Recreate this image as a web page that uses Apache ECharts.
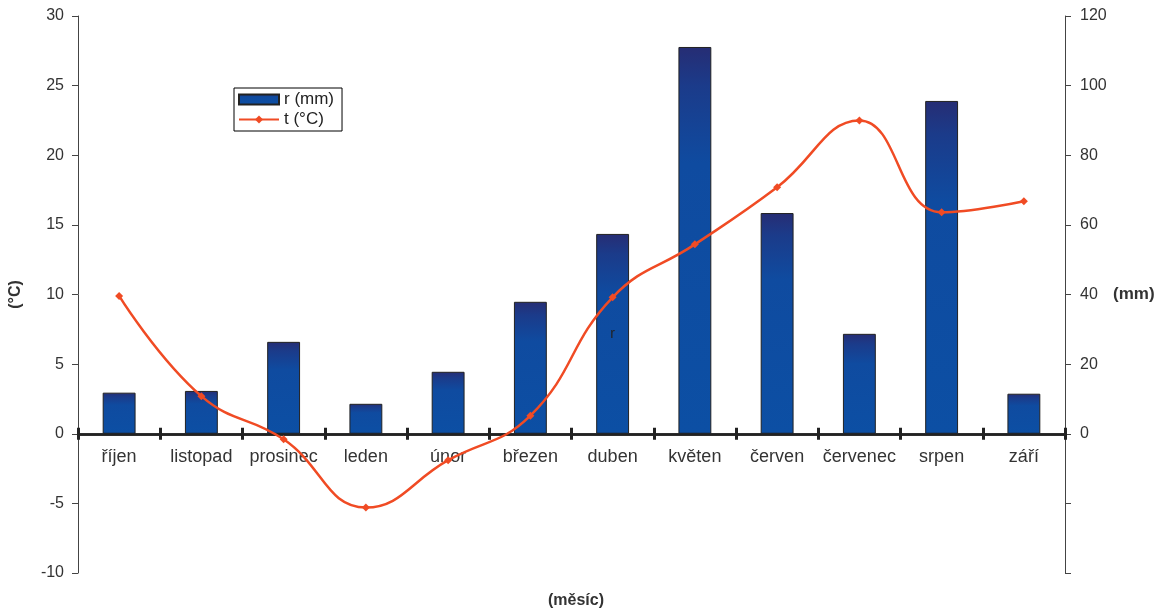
<!DOCTYPE html>
<html>
<head>
<meta charset="utf-8">
<script src="https://cdn.jsdelivr.net/npm/echarts@6/dist/echarts.min.js"></script>
<style>
  html, body { margin: 0; padding: 0; background: #fff; }
  #chart { width: 1162px; height: 608px; }
</style>
</head>
<body>
<div id="chart"></div>
<script>
// months (Czech)
const months = ['říjen', 'listopad', 'prosinec', 'leden', 'únor', 'březen',
  'duben', 'květen', 'červen', 'červenec', 'srpen', 'září'];
// precipitation r (mm)
const rainfall = [11.8, 12.3, 26.4, 8.6, 17.8, 37.9, 57.4, 111.1, 63.4, 28.7, 95.6, 11.5];
// temperature t (°C)
const temperature = [9.9, 2.7, -0.4, -5.3, -1.9, 1.3, 9.8, 13.6, 17.7, 22.5, 15.9, 16.7];
// stray data label "r" shown on the duben bar
const strayLabelIndex = 6;

const font = 'Liberation Sans, Arial, sans-serif';
const textColor = '#333';

// grid geometry: x axis sits on the 0 line of the temperature axis
const gridTop = 16, gridBottom = 35, chartH = 608;
const plotH = chartH - gridTop - gridBottom;
const zeroOffset = -plotH * 10 / 40;

const barColor = new echarts.graphic.LinearGradient(0, 0, 0, 1, [
  { offset: 0, color: '#262d74' },
  { offset: 0.1, color: '#1b3b8a' },
  { offset: 0.3, color: '#0f4ba0' },
  { offset: 1, color: '#0c4fa4' }
]);

const chart = echarts.init(document.getElementById('chart'), null, { renderer: 'canvas' });

chart.setOption({
  animation: false,
  textStyle: { fontFamily: font },
  title: {
    text: '(měsíc)',
    left: 571, top: 588,
    textAlign: 'center',
    textStyle: { fontSize: 16, fontWeight: 'bold', color: textColor, fontFamily: font }
  },
  legend: {
    orient: 'vertical',
    left: 234, top: 88,
    padding: [3, 8, 3, 4],
    itemGap: 3,
    itemWidth: 40,
    itemHeight: 10,
    borderColor: '#000',
    borderWidth: 1,
    backgroundColor: '#fff',
    textStyle: { fontSize: 17, color: '#222', fontFamily: font },
    data: [{ name: 'r (mm)', icon: 'rect' }, 't (°C)']
  },
  grid: { left: 78, right: 97, top: gridTop, bottom: gridBottom, containLabel: false, outerBoundsMode: 'none' },
  xAxis: [
    {
      type: 'category',
      data: months,
      position: 'bottom',
      offset: zeroOffset,
      axisLine: { onZero: false, lineStyle: { color: '#222', width: 2.5 } },
      axisTick: { show: true, length: 6, lineStyle: { color: '#222', width: 3 } },
      axisLabel: { fontSize: 18, color: textColor, margin: 14, interval: 0, fontFamily: font }
    },
    {
      type: 'category',
      data: months,
      position: 'bottom',
      offset: zeroOffset,
      axisLine: { onZero: false, lineStyle: { color: '#222', width: 2.5 } },
      axisTick: { show: true, inside: true, length: 6, lineStyle: { color: '#222', width: 3 } },
      axisLabel: { show: false }
    }
  ],
  yAxis: [
    {
      type: 'value',
      min: -10, max: 30, interval: 5,
      name: '(°C)',
      nameLocation: 'middle',
      nameRotate: 90,
      nameGap: 54,
      nameTextStyle: { fontSize: 16, fontWeight: 'bold', color: textColor, fontFamily: font },
      axisLine: { show: true, lineStyle: { color: '#444', width: 1 } },
      axisTick: { show: true, length: 6, lineStyle: { color: '#444' } },
      axisLabel: { fontSize: 16, color: textColor, margin: 14, fontFamily: font },
      splitLine: { show: false }
    },
    {
      type: 'value',
      min: -40, max: 120, interval: 20,
      position: 'right',
      name: '(mm)',
      nameLocation: 'middle',
      nameRotate: 0,
      nameGap: 48,
      nameTextStyle: { fontSize: 17, fontWeight: 'bold', color: textColor, fontFamily: font, align: 'left' },
      axisLine: { show: true, lineStyle: { color: '#444', width: 1 } },
      axisTick: { show: true, length: 6, lineStyle: { color: '#444' } },
      axisLabel: {
        fontSize: 16, color: textColor, margin: 15, fontFamily: font,
        formatter: v => (v < 0 ? '' : String(v))
      },
      splitLine: { show: false }
    }
  ],
  series: [
    {
      name: 'r (mm)',
      type: 'bar',
      xAxisIndex: 0,
      yAxisIndex: 1,
      barWidth: '40%',
      itemStyle: { color: barColor, borderColor: '#222', borderWidth: 1 },
      data: rainfall.map((v, i) => i === strayLabelIndex
        ? { value: v, label: { show: true, position: 'inside', formatter: 'r', color: '#222', fontSize: 14, fontFamily: font } }
        : v),
      z: 2
    },
    {
      name: 't (°C)',
      type: 'line',
      xAxisIndex: 0,
      yAxisIndex: 0,
      smooth: 0.45,
      symbol: 'diamond',
      symbolSize: 8,
      lineStyle: { color: '#f04b24', width: 2.5 },
      itemStyle: { color: '#f04b24' },
      data: temperature,
      z: 3
    }
  ]
});
</script>
</body>
</html>
